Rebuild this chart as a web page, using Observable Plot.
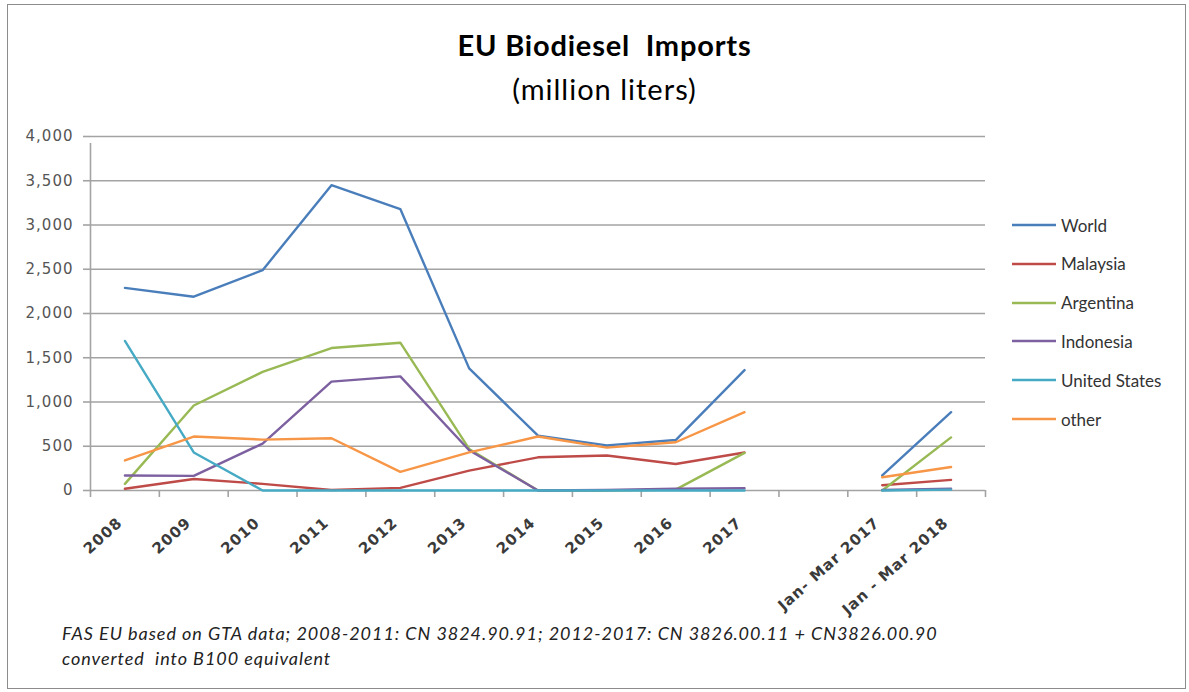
<!DOCTYPE html>
<html>
<head>
<meta charset="utf-8">
<script src="https://cdn.jsdelivr.net/npm/d3@7"></script>
<script src="https://cdn.jsdelivr.net/npm/@observablehq/plot@0.6"></script>
<style>
  body { margin: 0; background: #fff; }
  #wrap { position: relative; width: 1189px; height: 692px; overflow: hidden; font-family: Lato, "Open Sans", sans-serif; }
  #frame { position: absolute; left: 7px; top: 4px; width: 1179px; height: 685px; border: 1px solid #8c8c8c; box-sizing: border-box; }
  #title { position: absolute; left: 10px; width: 1189px; top: 28px; text-align: center; font-weight: bold; font-size: 29px; letter-spacing: 0.8px; line-height: 1.2; color: #000; }
  #subtitle { position: absolute; left: 10px; width: 1189px; top: 72px; text-align: center; font-size: 29px; letter-spacing: 1px; line-height: 1.2; color: #000; }
  #chart { position: absolute; left: 0; top: 110px; }
  #legend { position: absolute; left: 1012px; top: 0; }
  .item { position: absolute; left: 0; display: flex; align-items: center; height: 24px; white-space: nowrap; font-size: 17px; color: #333; }
  .item svg { margin-right: 5px; }
  #caption { position: absolute; left: 62px; top: 621px; font-style: italic; font-size: 18px; line-height: 25px; color: #222; letter-spacing: 0.95px; }
  g[aria-label="y-axis tick label"] text { letter-spacing: 1px; }
  g[aria-label="x-axis tick label"] text { letter-spacing: 1px; }
</style>
</head>
<body>
<div id="wrap">
  <div id="frame"></div>
  <div id="title">EU Biodiesel&nbsp; Imports</div>
  <div id="subtitle">(million liters)</div>
  <div id="chart"></div>
  <div id="legend"></div>
  <div id="caption">FAS EU based on GTA data; 2008-2011: CN 3824.90.91; 2012-2017: CN 3826.00.11 + CN3826.00.90<br>converted&nbsp; into B100 equivalent</div>
</div>
<script>
// ---- data ----
const categories = ["2008","2009","2010","2011","2012","2013","2014","2015","2016","2017","","Jan- Mar 2017","Jan - Mar 2018"];
const seriesNames = ["World","Malaysia","Argentina","Indonesia","United States","other"];
const seriesColors = ["#4A7EBB","#BE4B48","#98B954","#7D60A0","#46AAC5","#F79646"];
const world        = [2290, 2190, 2490, 3450, 3180, 1380, 620, 510, 570, 1360, null, 170, 885];
const malaysia     = [20, 130, 75, 5, 30, 225, 375, 395, 300, 430, null, 60, 120];
const argentina    = [75, 960, 1340, 1610, 1670, 470, 0, 0, 10, 425, null, 0, 600];
const indonesia    = [170, 165, 530, 1230, 1290, 455, 0, 5, 20, 25, null, 5, 20];
const unitedStates = [1690, 430, 0, 0, 0, 0, 0, 0, 0, 0, null, 0, 10];
const other        = [340, 610, 575, 590, 210, 430, 610, 485, 545, 885, null, 150, 265];
const yTicks = [0, 500, 1000, 1500, 2000, 2500, 3000, 3500, 4000];

const seriesValues = [world, malaysia, argentina, indonesia, unitedStates, other];
const rows = [];
seriesNames.forEach((name, s) => {
  seriesValues[s].forEach((v, i) => rows.push({series: name, i, value: v}));
});

const xDomain = [-0.5, categories.length - 0.5];
const centers = categories.map((_, i) => i);
const boundaries = categories.map((_, i) => i - 0.5).concat([categories.length - 0.5]);
const grid = "#a3a3a3";

const chart = Plot.plot({
  width: 1189,
  height: 490,
  marginLeft: 90,
  marginRight: 204,
  marginTop: 26,
  marginBottom: 110,
  style: {fontFamily: "'DejaVu Sans', Verdana, sans-serif", background: "transparent", overflow: "visible"},
  x: {type: "linear", domain: xDomain, axis: null},
  y: {domain: [0, 4000], axis: null},
  color: {domain: seriesNames, range: seriesColors},
  marks: [
    Plot.gridY(yTicks, {stroke: grid, strokeOpacity: 1, strokeWidth: 1.6}),
    Plot.ruleX([xDomain[0]], {stroke: grid, strokeWidth: 1.6, y1: 0, y2: 4000, insetBottom: -7}),
    Plot.axisY({ticks: yTicks, tickSize: 7, tickFormat: () => "", label: null, stroke: grid, strokeWidth: 1.6}),
    Plot.axisY({ticks: yTicks, tickSize: 0, tickPadding: 17, tickFormat: d3.format(","), label: null, fontSize: 15, color: "#555"}),
    Plot.axisX({ticks: boundaries, tickSize: 7, tickFormat: () => "", label: null, stroke: grid, strokeWidth: 1.6}),
    Plot.axisX({ticks: centers, tickSize: 0, tickPadding: 30, tickRotate: -42, dx: -5, tickFormat: i => categories[i], label: null, fontSize: 15, fontWeight: "bold", color: "#3a3a3a"}),
    Plot.line(rows, {x: "i", y: "value", z: "series", stroke: "series", strokeWidth: 2.4, strokeLinejoin: "round"})
  ]
});
document.getElementById("chart").appendChild(chart);

// ---- legend ----
const legend = document.getElementById("legend");
seriesNames.forEach((name, k) => {
  const item = document.createElement("div");
  item.className = "item";
  item.style.top = (213 + k * 38.8) + "px";
  item.innerHTML = `<svg width="44" height="6"><line x1="0" x2="44" y1="3" y2="3" stroke="${seriesColors[k]}" stroke-width="2.6"/></svg><span>${name}</span>`;
  legend.appendChild(item);
});
</script>
</body>
</html>
